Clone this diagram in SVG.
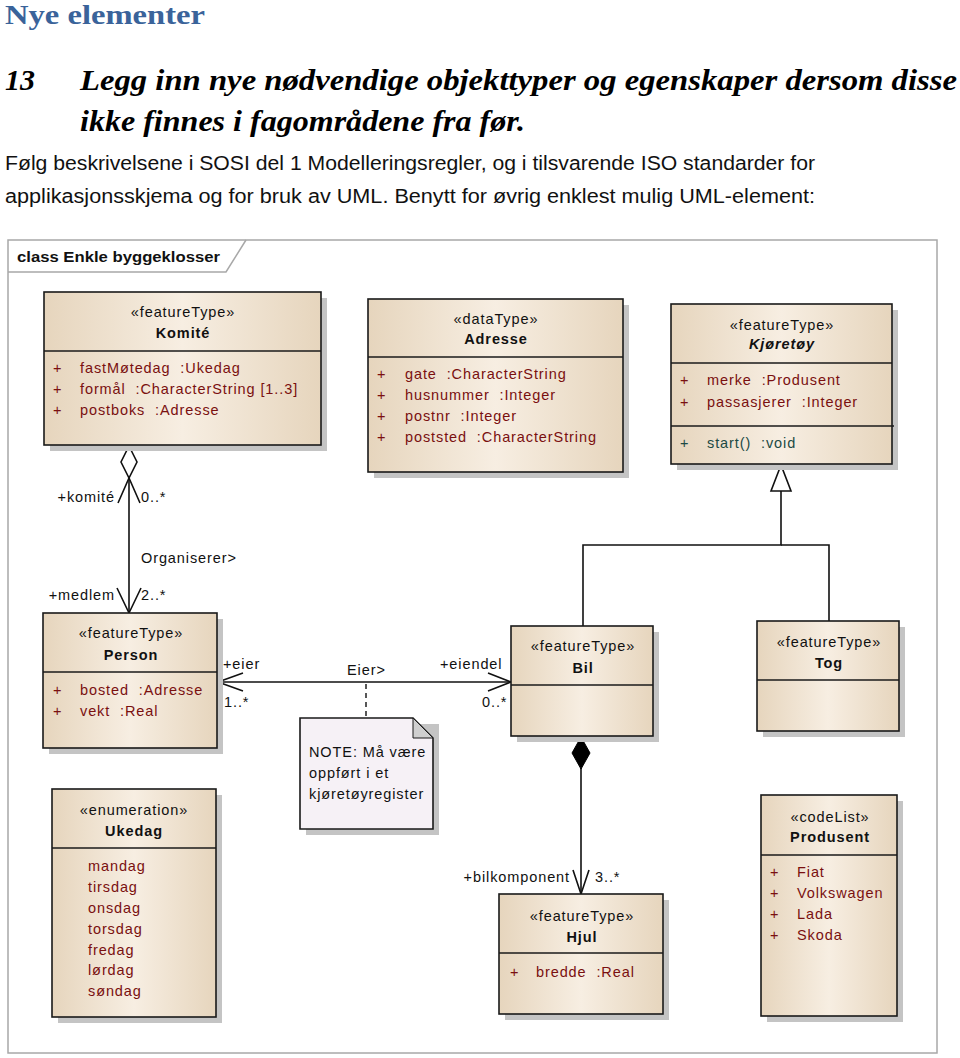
<svg xmlns="http://www.w3.org/2000/svg" width="960" height="1058" viewBox="0 0 960 1058">
<defs>
<linearGradient id="fillg" x1="0" y1="0" x2="1" y2="0">
<stop offset="0" stop-color="#E6D5BD"/>
<stop offset="0.5" stop-color="#F7EEE2"/>
<stop offset="1" stop-color="#E6D5BD"/>
</linearGradient>
<style>
.box{fill:url(#fillg);stroke:#1a1a1a;stroke-width:1.6}
.shadow{fill:#c4c4c4}
.sep{stroke:#1a1a1a;stroke-width:1.6}
.t{font-family:"Liberation Sans",Arial,sans-serif;font-size:14.5px;letter-spacing:0.9px;fill:#111}
.c{text-anchor:middle}
.b{font-weight:bold}
.a{fill:#7a1010}
.op{fill:#1c4a44}
.e{text-anchor:end}
.ln{stroke:#111;stroke-width:1.6;fill:none}
</style>
</defs>
<rect width="960" height="1058" fill="#fff"/>
<g id="header">
<text x="5" y="24" font-family="'Liberation Serif',serif" font-weight="bold" font-size="28" fill="#3a639a" textLength="200" lengthAdjust="spacingAndGlyphs">Nye elementer</text>
<text x="5" y="90" font-family="'Liberation Serif',serif" font-weight="bold" font-style="italic" font-size="30" fill="#000">13</text>
<text x="80" y="90" font-family="'Liberation Serif',serif" font-weight="bold" font-style="italic" font-size="30" fill="#000" textLength="877" lengthAdjust="spacingAndGlyphs">Legg inn nye nødvendige objekttyper og egenskaper dersom disse</text>
<text x="80" y="131" font-family="'Liberation Serif',serif" font-weight="bold" font-style="italic" font-size="30" fill="#000" textLength="445" lengthAdjust="spacingAndGlyphs">ikke finnes i fagområdene fra før.</text>
<text x="5" y="170" font-family="'Liberation Sans',sans-serif" font-size="20" fill="#111" textLength="810" lengthAdjust="spacingAndGlyphs">Følg beskrivelsene i SOSI del 1 Modelleringsregler, og i tilsvarende ISO standarder for</text>
<text x="5" y="203" font-family="'Liberation Sans',sans-serif" font-size="20" fill="#111" textLength="810" lengthAdjust="spacingAndGlyphs">applikasjonsskjema og for bruk av UML. Benytt for øvrig enklest mulig UML-element:</text>
</g>
<g id="frame">
<rect x="8" y="240" width="929" height="813" fill="#fff" stroke="#a8a8a8" stroke-width="1.5"/>
<path d="M8,272 H226 L246,240" fill="none" stroke="#a8a8a8" stroke-width="1.5"/>
<text x="17" y="262" font-family="'Liberation Sans',sans-serif" font-weight="bold" font-size="15" fill="#111" textLength="203" lengthAdjust="spacingAndGlyphs">class Enkle byggeklosser</text>
</g>
<g id="connectors">
<line class="ln" x1="129" y1="478" x2="129" y2="613"/>
<polygon points="129,446 137,462 129,478 121,462" fill="#fff" stroke="#111" stroke-width="1.6"/>
<polyline class="ln" points="118,503 129,478 140,503"/>
<polyline class="ln" points="117,588 129,613 141,588"/>
<line class="ln" x1="218" y1="682" x2="511" y2="682"/>
<polyline class="ln" points="243,673 218,682 243,691"/>
<polyline class="ln" points="488,673 511,682 488,691"/>
<line x1="366" y1="684" x2="366" y2="718" stroke="#111" stroke-width="1.4" stroke-dasharray="5,4"/>
<polyline class="ln" points="781,491 781,545 583,545 583,626"/>
<polyline class="ln" points="781,545 829,545 829,621"/>
<polygon points="781,465 771,491 791,491" fill="#fff" stroke="#111" stroke-width="1.6"/>
<line class="ln" x1="581" y1="768" x2="581" y2="894"/>
<polygon points="581,737 590,753 581,769 572,753" fill="#000" stroke="#000" stroke-width="1"/>
<polyline class="ln" points="573,870 581,894 589,870"/>
<text class="t e" x="115" y="502">+komité</text>
<text class="t" x="141" y="502">0..*</text>
<text class="t" x="141" y="563">Organiserer&gt;</text>
<text class="t e" x="115" y="600">+medlem</text>
<text class="t" x="141" y="600">2..*</text>
<text class="t" x="223" y="669">+eier</text>
<text class="t" x="224" y="707">1..*</text>
<text class="t" x="347" y="675">Eier&gt;</text>
<text class="t" x="440" y="669">+eiendel</text>
<text class="t" x="482" y="707">0..*</text>
<text class="t e" x="570" y="882">+bilkomponent</text>
<text class="t" x="595" y="882">3..*</text>
</g>
<g id="komite">
<rect class="shadow" x="50" y="298" width="277" height="153"/>
<rect class="box" x="44" y="292" width="277" height="153"/>
<line class="sep" x1="44" y1="351" x2="321" y2="351"/>
<text class="t c" x="183" y="317">«featureType»</text>
<text class="t c b" x="183" y="338">Komité</text>
<text class="t a" x="53" y="373">+</text><text class="t a" x="80" y="373">fastMøtedag&#160; :Ukedag</text>
<text class="t a" x="53" y="394">+</text><text class="t a" x="80" y="394">formål&#160; :CharacterString [1..3]</text>
<text class="t a" x="53" y="415">+</text><text class="t a" x="80" y="415">postboks&#160; :Adresse</text>
</g>
<g id="adresse">
<rect class="shadow" x="374" y="305" width="255" height="173"/>
<rect class="box" x="368" y="299" width="255" height="173"/>
<line class="sep" x1="368" y1="357" x2="623" y2="357"/>
<text class="t c" x="496" y="324">«dataType»</text>
<text class="t c b" x="496" y="344">Adresse</text>
<text class="t a" x="377" y="379">+</text><text class="t a" x="405" y="379">gate&#160; :CharacterString</text>
<text class="t a" x="377" y="400">+</text><text class="t a" x="405" y="400">husnummer&#160; :Integer</text>
<text class="t a" x="377" y="421">+</text><text class="t a" x="405" y="421">postnr&#160; :Integer</text>
<text class="t a" x="377" y="442">+</text><text class="t a" x="405" y="442">poststed&#160; :CharacterString</text>
</g>
<g id="kjoretoy">
<rect class="shadow" x="677" y="310" width="221" height="160"/>
<rect class="box" x="671" y="304" width="221" height="160"/>
<line class="sep" x1="671" y1="363" x2="892" y2="363"/>
<line class="sep" x1="671" y1="426" x2="894" y2="426"/>
<text class="t c" x="782" y="330">«featureType»</text>
<text class="t c b" x="782" y="349" font-style="italic">Kjøretøy</text>
<text class="t a" x="680" y="385">+</text><text class="t a" x="707" y="385">merke&#160; :Produsent</text>
<text class="t a" x="680" y="407">+</text><text class="t a" x="707" y="407">passasjerer&#160; :Integer</text>
<text class="t op" x="680" y="448">+</text><text class="t op" x="707" y="448">start()&#160; :void</text>
</g>
<g id="person">
<rect class="shadow" x="49" y="619" width="174" height="135"/>
<rect class="box" x="43" y="613" width="174" height="135"/>
<line class="sep" x1="43" y1="672" x2="217" y2="672"/>
<text class="t c" x="131" y="638">«featureType»</text>
<text class="t c b" x="131" y="660">Person</text>
<text class="t a" x="53" y="695">+</text><text class="t a" x="80" y="695">bosted&#160; :Adresse</text>
<text class="t a" x="53" y="716">+</text><text class="t a" x="80" y="716">vekt&#160; :Real</text>
</g>
<g id="bil">
<rect class="shadow" x="517" y="632" width="142" height="110"/>
<rect class="box" x="511" y="626" width="142" height="110"/>
<line class="sep" x1="511" y1="685" x2="653" y2="685"/>
<text class="t c" x="583" y="651">«featureType»</text>
<text class="t c b" x="583" y="673">Bil</text>
</g>
<g id="tog">
<rect class="shadow" x="763" y="627" width="142" height="110"/>
<rect class="box" x="757" y="621" width="142" height="110"/>
<line class="sep" x1="757" y1="680" x2="899" y2="680"/>
<text class="t c" x="829" y="647">«featureType»</text>
<text class="t c b" x="829" y="668">Tog</text>
</g>
<g id="note">
<path d="M306,724 H439 V835 H306 Z" fill="#c4c4c4"/>
<path d="M300,718 H413 L433,738 V829 H300 Z" fill="#f6f1f6" stroke="#1a1a1a" stroke-width="1.6"/>
<path d="M413,718 V738 H433 Z" fill="#cfcfcf" stroke="#1a1a1a" stroke-width="1"/>
<text class="t" x="309" y="757">NOTE: Må være</text>
<text class="t" x="309" y="778">oppført i et</text>
<text class="t" x="309" y="799">kjøretøyregister</text>
</g>
<g id="ukedag">
<rect class="shadow" x="58" y="795" width="164" height="228"/>
<rect class="box" x="52" y="789" width="164" height="228"/>
<line class="sep" x1="52" y1="848" x2="216" y2="848"/>
<text class="t c" x="134" y="815">«enumeration»</text>
<text class="t c b" x="134" y="836">Ukedag</text>
<text class="t a" x="88" y="871">mandag</text>
<text class="t a" x="88" y="892">tirsdag</text>
<text class="t a" x="88" y="913">onsdag</text>
<text class="t a" x="88" y="934">torsdag</text>
<text class="t a" x="88" y="955">fredag</text>
<text class="t a" x="88" y="975">lørdag</text>
<text class="t a" x="88" y="996">søndag</text>
</g>
<g id="hjul">
<rect class="shadow" x="505" y="900" width="164" height="120"/>
<rect class="box" x="499" y="894" width="164" height="120"/>
<line class="sep" x1="499" y1="953" x2="663" y2="953"/>
<text class="t c" x="582" y="921">«featureType»</text>
<text class="t c b" x="582" y="942">Hjul</text>
<text class="t a" x="510" y="977">+</text><text class="t a" x="536" y="977">bredde&#160; :Real</text>
</g>
<g id="produsent">
<rect class="shadow" x="767" y="801" width="136" height="221"/>
<rect class="box" x="761" y="795" width="136" height="221"/>
<line class="sep" x1="761" y1="855" x2="897" y2="855"/>
<text class="t c" x="830" y="822">«codeList»</text>
<text class="t c b" x="830" y="842">Produsent</text>
<text class="t a" x="770" y="877">+</text><text class="t a" x="797" y="877">Fiat</text>
<text class="t a" x="770" y="898">+</text><text class="t a" x="797" y="898">Volkswagen</text>
<text class="t a" x="770" y="919">+</text><text class="t a" x="797" y="919">Lada</text>
<text class="t a" x="770" y="940">+</text><text class="t a" x="797" y="940">Skoda</text>
</g>
</svg>
